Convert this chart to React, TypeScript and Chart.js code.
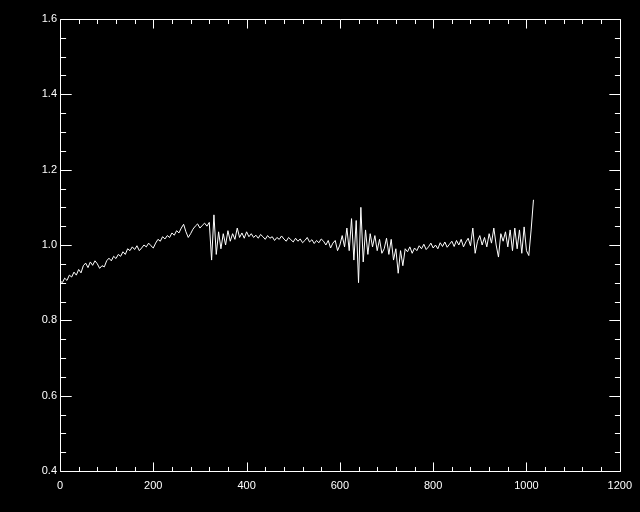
import React, { useEffect, useRef } from "react";
import { Chart, registerables } from "chart.js";

Chart.register(...registerables);

// Sample spacing along the x axis (data units)
const SAMPLE_STEP = 5;

// Series values, one every SAMPLE_STEP units starting at 0
const SERIES_VALUES: number[] = [
  // 0 - 100
  0.905, 0.900, 0.912, 0.906, 0.920, 0.915, 0.928, 0.920, 0.935, 0.926, 0.945,
  0.952, 0.940, 0.955, 0.946, 0.958, 0.950, 0.938, 0.945, 0.942, 0.958,
  // 105 - 200
  0.965, 0.958, 0.970, 0.964, 0.975, 0.970, 0.982, 0.975, 0.990, 0.985,
  0.995, 0.988, 0.998, 0.985, 0.992, 1.000, 0.995, 1.005, 0.998, 0.992,
  // 205 - 320
  1.005, 1.015, 1.010, 1.022, 1.016, 1.025, 1.020, 1.032, 1.026, 1.038, 1.032, 1.045,
  1.055, 1.035, 1.020, 1.030, 1.042, 1.050, 1.056, 1.045, 1.052, 1.058, 1.050, 1.060,
  // 325 - 400
  0.960, 1.080, 0.975, 1.035, 0.990, 1.030, 1.000, 1.038,
  1.010, 1.030, 1.015, 1.045, 1.020, 1.032, 1.018, 1.035,
  // 405 - 600
  1.022, 1.030, 1.020, 1.026, 1.018, 1.028, 1.022, 1.015, 1.025, 1.018,
  1.022, 1.012, 1.020, 1.015, 1.024, 1.016, 1.010, 1.020, 1.014, 1.008,
  1.018, 1.010, 1.016, 1.006, 1.012, 1.020, 1.008, 1.014, 1.004, 1.012,
  1.006, 1.016, 1.010, 1.000, 1.012, 0.992, 1.005, 1.012, 0.985, 1.000,
  // 605 - 700
  1.025, 0.995, 1.045, 0.985, 1.070, 0.960, 1.065, 0.900, 1.100, 0.955,
  1.040, 0.975, 1.030, 0.995, 1.025, 0.985, 1.015, 0.978, 0.990, 1.018,
  // 705 - 760
  0.975, 1.015, 0.960, 0.990, 0.925, 0.985, 0.945, 0.990, 0.982, 0.995, 0.978, 0.992,
  // 765 - 880
  0.985, 0.998, 0.990, 1.002, 0.988, 0.995, 1.005, 0.992, 1.000, 0.990, 1.006, 0.996,
  1.008, 0.994, 1.002, 1.010, 0.996, 1.012, 1.000, 1.015, 0.995, 1.008, 1.018, 0.998,
  // 885 - 1015
  1.045, 0.978, 1.010, 1.025, 1.000, 1.020, 0.995, 1.030, 1.005, 1.045,
  1.000, 0.968, 1.030, 1.010, 1.035, 0.995, 1.040, 0.985, 1.045, 0.990,
  1.040, 0.978, 1.048, 0.985, 0.972, 1.040, 1.120,
];

const X_MIN = 0;
const X_MAX = 1200;
const X_MAJOR_TICKS = [0, 200, 400, 600, 800, 1000, 1200];
const X_TICK_LABELS = ["0", "200", "400", "600", "800", "1000", "1200"];
const X_MINOR_STEP = 40;

const Y_MIN = 0.4;
const Y_MAX = 1.6;
const Y_MAJOR_TICKS = [0.4, 0.6, 0.8, 1.0, 1.2, 1.4, 1.6];
const Y_TICK_LABELS = ["0.4", "0.6", "0.8", "1.0", "1.2", "1.4", "1.6"];
const Y_MINOR_STEP = 0.05;

const FG = "#ffffff";
const BG = "#000000";

const idlFramePlugin = {
  id: "idlFrame",
  beforeDraw(chart: any) {
    const ctx = chart.ctx;
    ctx.save();
    ctx.fillStyle = BG;
    ctx.fillRect(0, 0, chart.width, chart.height);
    ctx.restore();
  },
  afterDraw(chart: any) {
    const ctx = chart.ctx;
    const { left, right, top, bottom } = chart.chartArea;
    const xs = chart.scales.x;
    const ys = chart.scales.y;
    const crisp = (v: number) => Math.round(v) + 0.5;
    const L = crisp(left);
    const R = crisp(right);
    const T = crisp(top);
    const B = crisp(bottom);
    const h = bottom - top;
    const w = right - left;
    const xMajLen = 0.02 * h;
    const yMajLen = 0.02 * w;
    ctx.save();
    ctx.strokeStyle = FG;
    ctx.lineWidth = 1;
    ctx.beginPath();
    ctx.rect(L, T, R - L, B - T);
    // x ticks (bottom and top)
    const nxMinor = Math.round((X_MAX - X_MIN) / X_MINOR_STEP);
    for (let i = 0; i <= nxMinor; i++) {
      const v = X_MIN + i * X_MINOR_STEP;
      const major = X_MAJOR_TICKS.some((t) => Math.abs(t - v) < 1e-6);
      const len = major ? xMajLen : xMajLen / 2;
      const px = crisp(xs.getPixelForValue(v));
      ctx.moveTo(px, B);
      ctx.lineTo(px, B - len);
      ctx.moveTo(px, T);
      ctx.lineTo(px, T + len);
    }
    // y ticks (left and right)
    const nyMinor = Math.round((Y_MAX - Y_MIN) / Y_MINOR_STEP);
    for (let i = 0; i <= nyMinor; i++) {
      const v = Y_MIN + i * Y_MINOR_STEP;
      const major = Y_MAJOR_TICKS.some((t) => Math.abs(t - v) < 1e-6);
      const len = major ? yMajLen : yMajLen / 2;
      const py = crisp(ys.getPixelForValue(v));
      ctx.moveTo(L, py);
      ctx.lineTo(L + len, py);
      ctx.moveTo(R, py);
      ctx.lineTo(R - len, py);
    }
    ctx.stroke();
    ctx.restore();
  },
};

export default function App() {
  const canvasRef = useRef<HTMLCanvasElement | null>(null);

  useEffect(() => {
    document.body.style.margin = "0";
    document.body.style.background = BG;
    const canvas = canvasRef.current;
    if (!canvas) return;
    const points = SERIES_VALUES.map((y, i) => ({ x: X_MIN + i * SAMPLE_STEP, y }));
    const chart = new Chart(canvas, {
      type: "line",
      data: {
        datasets: [
          {
            data: points,
            borderColor: FG,
            borderWidth: 1,
            pointRadius: 0,
            tension: 0,
            fill: false,
          },
        ],
      },
      options: {
        animation: false,
        responsive: false,
        devicePixelRatio: 1,
        events: [],
        layout: { padding: { top: 19, right: 18, left: 0, bottom: 0 }, autoPadding: false },
        plugins: {
          legend: { display: false },
          tooltip: { enabled: false },
          title: { display: false },
        },
        scales: {
          x: {
            type: "linear",
            min: X_MIN,
            max: X_MAX,
            afterBuildTicks: (scale: any) => {
              scale.ticks = X_MAJOR_TICKS.map((v) => ({ value: v }));
            },
            afterFit: (scale: any) => {
              scale.height = 41;
            },
            grid: { display: false, drawTicks: false },
            border: { display: false },
            ticks: {
              color: FG,
              padding: 8,
              maxRotation: 0,
              autoSkip: false,
              font: { family: "'Liberation Sans', Arial, sans-serif", size: 11 },
              callback: (value: any) => {
                const idx = X_MAJOR_TICKS.findIndex((t) => Math.abs(t - Number(value)) < 1e-6);
                return idx >= 0 ? X_TICK_LABELS[idx] : "";
              },
            },
          },
          y: {
            type: "linear",
            min: Y_MIN,
            max: Y_MAX,
            afterBuildTicks: (scale: any) => {
              scale.ticks = Y_MAJOR_TICKS.map((v) => ({ value: v }));
            },
            afterFit: (scale: any) => {
              scale.width = 60;
            },
            grid: { display: false, drawTicks: false },
            border: { display: false },
            ticks: {
              color: FG,
              padding: 3,
              autoSkip: false,
              font: { family: "'Liberation Sans', Arial, sans-serif", size: 11 },
              callback: (value: any) => {
                const idx = Y_MAJOR_TICKS.findIndex((t) => Math.abs(t - Number(value)) < 1e-6);
                return idx >= 0 ? Y_TICK_LABELS[idx] : "";
              },
            },
          },
        },
      },
      plugins: [idlFramePlugin],
    } as any);
    return () => chart.destroy();
  }, []);

  return (
    <div style={{ width: 640, height: 512, background: BG }}>
      <canvas ref={canvasRef} width={640} height={512} style={{ display: "block" }} />
    </div>
  );
}
